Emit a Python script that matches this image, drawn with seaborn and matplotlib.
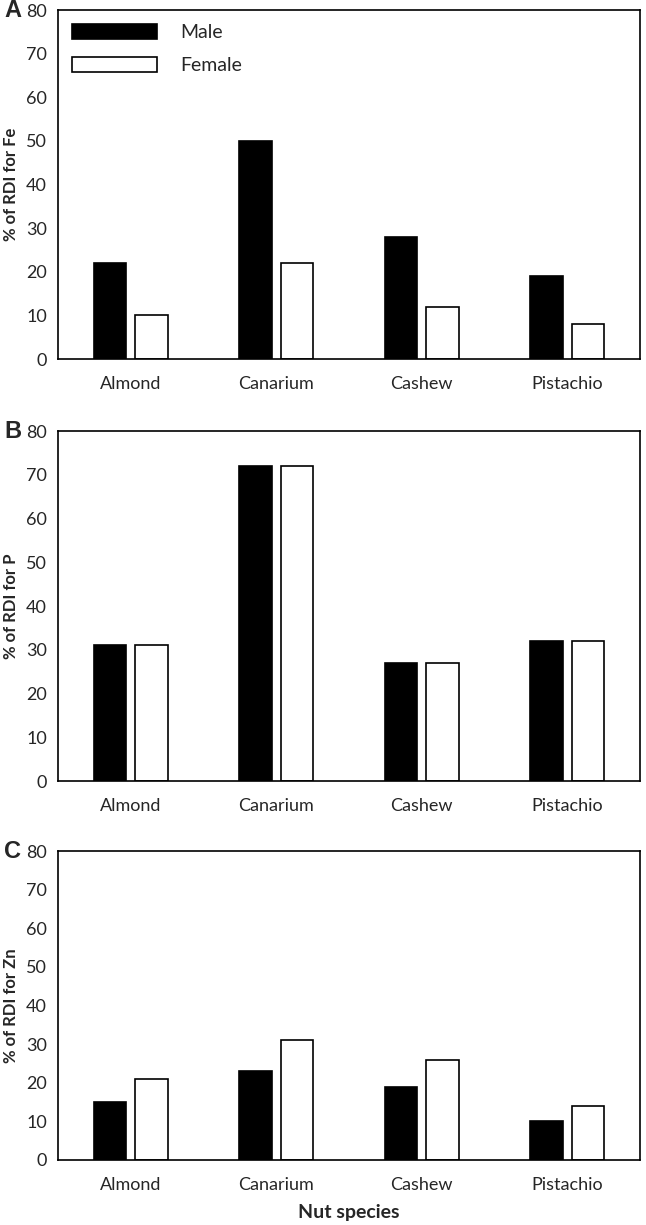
import numpy as np
import pandas as pd
import seaborn as sns
import matplotlib.pyplot as plt

sns.set_style("white")
plt.rcParams['font.family'] = ['Lato', 'DejaVu Sans']

nuts = ["Almond", "Canarium", "Cashew", "Pistachio"]
sexes = ["Male", "Female"]
fe_male = [22, 50, 28, 19]
fe_female = [10, 22, 12, 8]
p_male = [31, 72, 27, 32]
p_female = [31, 72, 27, 32]
zn_male = [15, 23, 19, 10]
zn_female = [21, 31, 26, 14]

panels = [("A", "% of RDI for Fe", fe_male, fe_female),
          ("B", "% of RDI for P", p_male, p_female),
          ("C", "% of RDI for Zn", zn_male, zn_female)]

# axes boxes in figure fractions (left, bottom, width, height)
boxes = [[0.0898, 0.7069, 0.901, 0.2849],
         [0.0898, 0.3624, 0.901, 0.2857],
         [0.0898, 0.0531, 0.901, 0.2522]]

fig = plt.figure(figsize=(6.46, 12.25), dpi=100)

for i, (letter, ylab, male, female) in enumerate(panels):
    ax = fig.add_axes(boxes[i])
    df = pd.DataFrame({"nut": nuts * 2,
                       "sex": ["Male"] * 4 + ["Female"] * 4,
                       "val": male + female})
    sns.barplot(data=df, x="nut", y="val", hue="sex", hue_order=sexes,
                palette={"Male": "black", "Female": "white"},
                width=0.57, gap=0.21, edgecolor="black", linewidth=1.2,
                errorbar=None, saturation=1, ax=ax)
    ax.set_ylim(0, 80)
    ax.set_xlim(-0.5, 3.5)
    ax.set_yticks(range(0, 81, 10))
    ax.tick_params(length=0, labelsize=13, pad=8)
    ax.tick_params(axis="x", pad=12)
    for s in ax.spines.values():
        s.set_visible(True)
        s.set_color("black")
        s.set_linewidth(1.2)
    ax.set_ylabel(ylab, fontsize=12, fontweight="bold", labelpad=5)
    ax.set_xlabel("")
    ax.text(-0.092, 1.0, letter, transform=ax.transAxes, fontsize=17,
            fontweight="bold", family="Liberation Sans", va="center", ha="left")
    if i == 0:
        ax.legend(loc="upper left", frameon=False, fontsize=14,
                  handlelength=4.4, handleheight=0.85, labelspacing=0.8,
                  handletextpad=1.2, bbox_to_anchor=(0.0, 1.0),
                  borderaxespad=0.3)
    else:
        ax.get_legend().remove()
    if i == 2:
        ax.set_xlabel("Nut species", fontsize=14, fontweight="bold", labelpad=8)

fig.savefig("out.png", dpi=100)
